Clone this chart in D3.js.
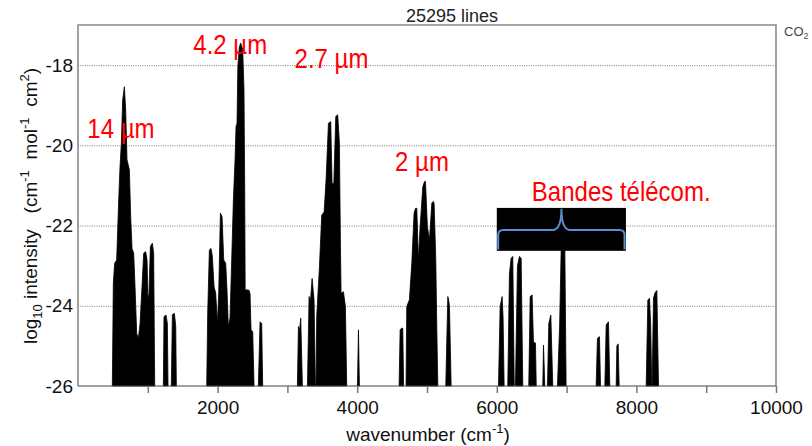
<!DOCTYPE html>
<html>
<head>
<meta charset="utf-8">
<script src="https://cdn.jsdelivr.net/npm/d3@7"></script>
<style>
  html, body { margin: 0; padding: 0; background: #fff; }
  svg { display: block; font-family: "Liberation Sans", Arial, sans-serif; }
</style>
</head>
<body>
<svg id="chart"></svg>
<script>
// CO2 line list envelopes: [wavenumber cm-1, log10 intensity].
// each band is a list of segments that start and end on the -26 floor
const band15um = [
  [[492,-26],[506,-23.44],[525,-22.94],[554,-22.86],[583,-21.36],[602,-20.53],[621,-19.95],[640,-18.87],
   [664,-18.54],[683,-19.12],[702,-20.36],[736,-20.61],[755,-21.78],[774,-22.57],[798,-22.69],[817,-23.52],
   [841,-24.69],[865,-24.81],[889,-24.44],[917,-23.52],[941,-22.69],[970,-22.65],[989,-22.86],[1003,-23.86],
   [1017,-23.69],[1037,-22.52],[1065,-22.44],[1084,-22.69],[1099,-26]],
  [[1223,-26],[1232,-24.27],[1261,-24.23],[1280,-24.44],[1290,-26]],
  [[1337,-26],[1352,-24.22],[1381,-24.19],[1400,-24.5],[1409,-26]]
];

const band4um = [
  [[1844,-26],[1858,-24.19],[1882,-22.61],[1906,-22.57],[1925,-22.77],[1949,-23.52],[1973,-23.69],[1997,-24.44],
   [2016,-23.69],[2040,-21.69],[2064,-21.78],[2088,-22.86],[2116,-22.94],[2135,-23.61],[2154,-24.52],[2178,-24.3],
   [2202,-22.86],[2226,-21.36],[2250,-20.36],[2264,-19.53],[2278,-19.45],[2290,-18.04],[2312,-17.54],[2331,-17.45],
   [2360,-17.62],[2378,-18.6],[2388,-21.0],[2395,-23.6],[2450,-23.61],[2465,-23.7],[2479,-24.6],[2503,-24.64],[2522,-26]],
  [[2584,-26],[2608,-24.4],[2632,-24.44],[2646,-26]]
];

const band27um = [
  [[3143,-26],[3158,-24.52],[3175,-24.6],[3191,-24.31],[3215,-26]],
  [[3287,-26],[3311,-23.77],[3330,-23.9],[3354,-23.32],[3382,-23.86],[3401,-26]],
  [[3410,-26],[3420,-24.27],[3459,-23.02],[3492,-21.74],[3526,-21.66],[3554,-20.86],[3588,-19.45],[3621,-19.41],
   [3640,-20.95],[3665,-20.95],[3693,-19.28],[3721,-19.24],[3745,-19.95],[3760,-22.5],[3769,-23.69],[3803,-23.65],
   [3831,-24.02],[3850,-26]],
  [[4003,-26],[4018,-24.6],[4032,-26]]
];

const band2um = [
  [[4600,-26],[4615,-24.6],[4635,-24.56],[4653,-24.56],[4665,-26]],
  [[4700,-26],[4710,-24.02],[4748,-23.85],[4782,-22.94],[4815,-21.69],[4835,-21.57],[4854,-21.57],[4877,-22.86],
   [4901,-22.03],[4940,-21.03],[4965,-20.9],[4978,-20.9],[5006,-22.03],[5035,-22.36],[5069,-21.44],[5090,-21.4],
   [5102,-21.45],[5126,-22.86],[5140,-24.5],[5155,-26]],
  [[5269,-26],[5298,-23.77],[5310,-23.85],[5322,-24.02],[5346,-26]]
];

const bandNir = [
  [[6024,-26],[6048,-24.02],[6076,-23.77],[6090,-24.3],[6105,-26]],
  [[6157,-26],[6181,-23.2],[6205,-22.82],[6229,-22.77],[6250,-26]],
  [[6267,-26],[6296,-23.0],[6325,-22.77],[6349,-22.82],[6372,-26]],
  [[6458,-26],[6478,-23.77],[6506,-23.73],[6525,-24.9],[6554,-24.93],[6565,-26]],
  [[6659,-26],[6669,-24.98],[6688,-26]],
  [[6726,-26],[6745,-24.44],[6774,-24.23],[6802,-26]],
  [[6869,-26],[6900,-24.5],[6922,-22.6],[6945,-21.8],[6975,-22.6],[6993,-26]],
  [[7423,-26],[7442,-24.81],[7471,-24.77],[7486,-26]],
  [[7548,-26],[7567,-24.48],[7600,-24.40],[7619,-26]],
  [[7710,-26],[7720,-25.0],[7739,-24.95],[7753,-26]],
  [[8140,-26],[8164,-23.86],[8188,-23.81],[8205,-24.5],[8220,-26]],
  [[8225,-26],[8245,-23.8],[8269,-23.67],[8293,-23.62],[8317,-26]]
];

const xTicks = [1000, 2000, 3000, 4000, 5000, 6000, 7000, 8000, 9000, 10000];
const xTickLabels = [2000, 4000, 6000, 8000, 10000];
const yTicks = [-18, -20, -22, -24, -26];

// red annotations, anchored at [wavenumber, log10 intensity]
const bandNames = ["14 µm", "4.2 µm", "2.7 µm", "2 µm", "Bandes télécom."];
const bandNameAnchors = [[133, -19.81], [1652, -17.73], [3103, -18.08], [4543, -20.63], [6502, -21.39]];

const width = 812, height = 446;
const margin = { top: 25, right: 36, bottom: 60, left: 78 };

const svg = d3.select("#chart")
    .attr("width", width)
    .attr("height", height)
    .attr("viewBox", [0, 0, width, height]);

svg.append("rect").attr("width", width).attr("height", height).attr("fill", "#fff");

const x = d3.scaleLinear()
    .domain([0, 10000])
    .range([margin.left, width - margin.right]);

const y = d3.scaleLinear()
    .domain([-26, -17])
    .range([height - margin.bottom, margin.top]);

// y axis labels + dotted grid
svg.append("g")
    .attr("transform", `translate(${margin.left},0)`)
    .call(d3.axisLeft(y).tickValues(yTicks).tickSize(0).tickPadding(5).tickFormat(d => String(d)))
    .call(g => g.select(".domain").remove())
    .call(g => g.selectAll(".tick text")
        .attr("fill", "#111")
        .style("font-size", "19px")
        .style("font-family", '"Liberation Sans", Arial, sans-serif'))
    .call(g => g.selectAll(".tick")
        .filter(d => d !== -26)
        .append("line")
        .attr("x2", x(10000) - margin.left)
        .attr("stroke", "#7a7a7a")
        .attr("stroke-dasharray", "1,1.3"));

// spectrum
const area = d3.area()
    .x(d => x(d[0]))
    .y0(y(-26))
    .y1(d => y(d[1]));

const segments = [].concat(band15um, band4um, band27um, band2um, bandNir);

svg.append("g")
    .selectAll("path")
    .data(segments)
    .join("path")
    .attr("fill", "#000")
    .attr("stroke", "#000")
    .attr("stroke-width", 0.8)
    .attr("stroke-linejoin", "round")
    .attr("d", area);

// frame
const frame = svg.append("g").attr("fill", "none");
frame.append("path")
    .attr("stroke", "#8a8a8a")
    .attr("stroke-width", 1.6)
    .attr("d", `M${x(0)},${y(-26)}V${y(-17)}H${x(10000)}V${y(-26)}`);
frame.append("line")
    .attr("x1", x(0)).attr("x2", x(10000))
    .attr("y1", y(-26)).attr("y2", y(-26))
    .attr("stroke", "#444")
    .attr("stroke-width", 1.2);

// x axis
svg.append("g")
    .attr("transform", `translate(0,${y(-26)})`)
    .call(d3.axisBottom(x).tickValues(xTicks).tickSize(7).tickPadding(8)
        .tickFormat(d => xTickLabels.includes(d) ? d : ""))
    .call(g => g.select(".domain").remove())
    .call(g => g.selectAll(".tick line").attr("stroke", "#777").attr("stroke-width", 1.5))
    .call(g => g.selectAll(".tick text")
        .attr("fill", "#111")
        .style("font-size", "19px")
        .style("font-family", '"Liberation Sans", Arial, sans-serif'));

// axis titles
const xl = svg.append("text")
    .attr("x", 428).attr("y", 441)
    .attr("text-anchor", "middle")
    .attr("fill", "#111")
    .style("font-size", "19px");
xl.append("tspan").text("wavenumber (cm");
xl.append("tspan").attr("dy", -8).style("font-size", "13px").text("-1");
xl.append("tspan").attr("dy", 8).text(")");

const yl = svg.append("text")
    .attr("transform", "translate(37,206) rotate(-90)")
    .attr("text-anchor", "middle")
    .attr("fill", "#111")
    .attr("xml:space", "preserve")
    .style("white-space", "pre")
    .style("font-size", "19px");
yl.append("tspan").text("log");
yl.append("tspan").attr("dy", 5).style("font-size", "13px").text("10");
yl.append("tspan").attr("dy", -5).text(" intensity   (cm");
yl.append("tspan").attr("dy", -8).style("font-size", "13px").text("-1");
yl.append("tspan").attr("dy", 8).text("  mol");
yl.append("tspan").attr("dy", -8).style("font-size", "13px").text("-1");
yl.append("tspan").attr("dy", 8).text("  cm");
yl.append("tspan").attr("dy", -8).style("font-size", "13px").text("2");
yl.append("tspan").attr("dy", 8).text(")");

// title and molecule tag
svg.append("text")
    .attr("x", 452).attr("y", 22)
    .attr("text-anchor", "middle")
    .attr("fill", "#222")
    .style("font-size", "18px")
    .text("25295 lines");

const co2 = svg.append("text")
    .attr("x", 784).attr("y", 36)
    .attr("fill", "#444")
    .style("font-size", "13px");
co2.append("tspan").text("CO");
co2.append("tspan").attr("dy", 3).style("font-size", "9px").text("2");

// telecom window box with blue brace
svg.append("rect")
    .attr("x", x(6000))
    .attr("y", y(-21.56))
    .attr("width", x(7850) - x(6000))
    .attr("height", y(-22.63) - y(-21.56))
    .attr("fill", "#000");

const bx0 = x(6020), bx1 = x(7830), bxm = x(6926);
const byEnd = y(-22.6), byMid = y(-22.11), byTip = y(-21.58);
const r = 5;
const brace = d3.path();
brace.moveTo(bx0, byEnd);
brace.lineTo(bx0, byMid + r);
brace.quadraticCurveTo(bx0, byMid, bx0 + r, byMid);
brace.lineTo(bxm - 9, byMid);
brace.quadraticCurveTo(bxm, byMid, bxm, byTip);
brace.quadraticCurveTo(bxm, byMid, bxm + 9, byMid);
brace.lineTo(bx1 - r, byMid);
brace.quadraticCurveTo(bx1, byMid, bx1, byMid + r);
brace.lineTo(bx1, byEnd);

svg.append("path")
    .attr("d", brace.toString())
    .attr("fill", "none")
    .attr("stroke", "#5a8ed0")
    .attr("stroke-width", 2);

// red band names (slightly tall type, as in the source)
svg.append("g")
    .selectAll("g")
    .data(bandNames)
    .join("g")
    .attr("transform", (d, i) => `translate(${x(bandNameAnchors[i][0])},${y(bandNameAnchors[i][1])})`)
    .append("text")
    .attr("transform", "scale(1,1.15)")
    .attr("fill", "#ff0000")
    .style("font-size", "24px")
    .text(d => d);
</script>
</body>
</html>
